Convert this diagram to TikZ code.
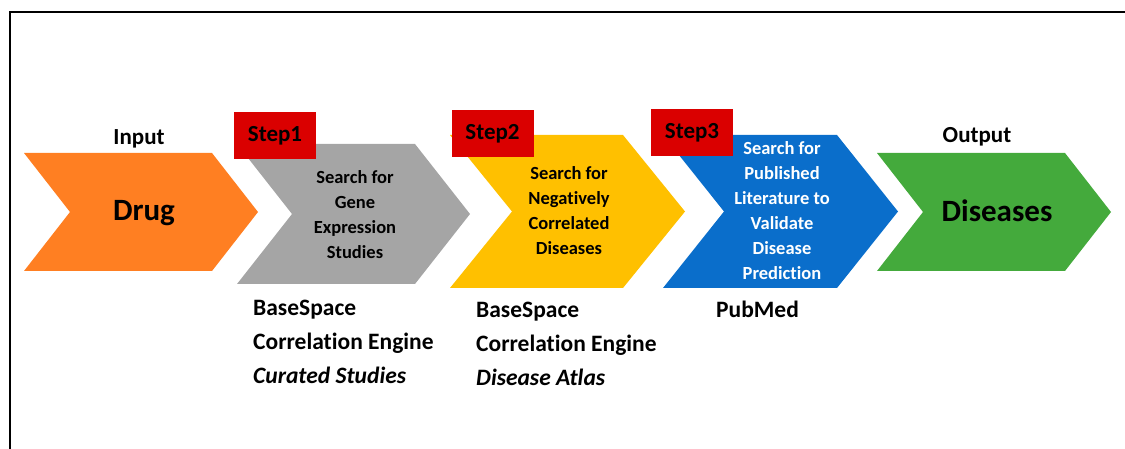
\documentclass[tikz,border=0pt]{standalone}
\usepackage{fontspec}
\setmainfont{Carlito}[Ligatures=NoCommon]
\usepackage{tikz}
\usetikzlibrary{positioning}

\definecolor{drugorange}{HTML}{FF7F22}
\definecolor{genegray}{HTML}{A5A5A5}
\definecolor{corryellow}{HTML}{FFC000}
\definecolor{litblue}{HTML}{0A6ECB}
\definecolor{disgreen}{HTML}{44AA3C}
\definecolor{stepred}{HTML}{DA0000}

\begin{document}
\begin{tikzpicture}[x=1pt,y=-1pt,
      stepbox/.style={fill=stepred,minimum width=82pt,minimum height=47pt,inner sep=0pt,
        font=\fontsize{23}{28}\selectfont\bfseries},
      inside/.style={align=center,inner sep=0pt,font=\fontsize{18.5}{25}\selectfont\bfseries},
      title/.style={inner sep=0pt,anchor=base,font=\fontsize{23}{28}\selectfont\bfseries},
      big/.style={inner sep=0pt,anchor=base,font=\fontsize{31}{36}\selectfont\bfseries},
      source/.style={align=left,inner sep=0pt,anchor=base west,
        font=\fontsize{23.5}{34}\selectfont\bfseries}]
			\useasboundingbox (0,0) rectangle (1125,449);
			\draw[line width=2pt] (9.5,449) -- (9.5,12.5) -- (1125,12.5);
			% chevrons: name/left/top/bottom/notch depth/right/colour
			\foreach \n/\l/\t/\b/\d/\r/\c in {drug/24/153/271/46/212/drugorange,
			    gene/237/144/284/55/415/genegray, corr/450/135/288/62/623/corryellow,
			    lit/663/135/288/61/837/litblue, dis/877/153/271/46/1065/disgreen}
				\fill[\c] (\l,\t) -- (\r,\t) -- ({\r+\d},{(\t+\b)/2}) -- (\r,\b)
				  -- (\l,\b) -- ({\l+\d},{(\t+\b)/2}) -- cycle;
			\node[title] (input) at (139,145) {Input};
			\node[title] (output) at (977,143) {Output};
			\node[big] (drug) at (144,221) {Drug};
			\node[big] (dis) at (997,222) {Diseases};
			\node[inside] (gene) at (355,215) {Search for\\Gene\\Expression\\Studies};
			\node[inside] (corr) at (569,211) {Search for\\Negatively\\Correlated\\Diseases};
			\node[inside,text=white] (lit) at (782,211)
			  {Search for\\Published\\Literature to\\Validate\\Disease\\Prediction};
			\node[stepbox] (step1) at (275,135.5) {Step1};
			\node[stepbox] (step2) at (492.5,133.5) {Step2};
			\node[stepbox] (step3) at (692,133) {Step3};
			% sources: anchored on the baseline of the last line
			\node[source] (src1) at (253,383) {BaseSpace\\Correlation Engine\\\textit{Curated Studies}};
			\node[source] (src2) at (476,385) {BaseSpace\\Correlation Engine\\\textit{Disease Atlas}};
			\node[source] (src3) at (716,317) {PubMed};
		\end{tikzpicture}
\end{document}
